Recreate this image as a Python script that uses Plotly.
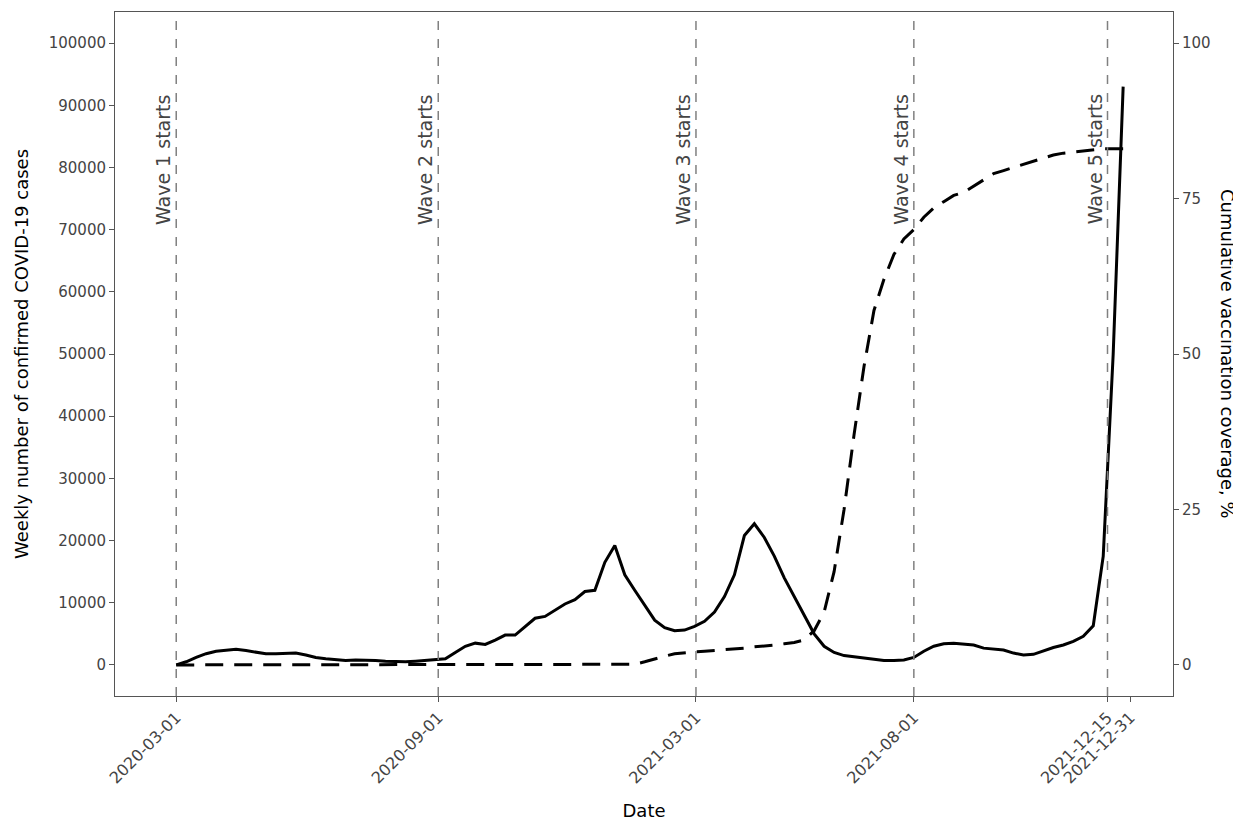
import plotly.graph_objects as go
import pandas as pd

dates = pd.date_range("2020-03-01", periods=96, freq="7D")
cases_k = [0,0.5,1.2,1.8,2.2,2.4,2.5,2.3,2.1,1.8,1.8,1.9,1.9,1.6,1.2,1.0,0.9,0.7,0.8,0.8,0.7,0.6,0.5,0.5,0.6,0.7,0.8,1.0,
           2.0,3.0,3.5,3.3,4.0,4.8,4.8,6.2,7.5,7.8,8.8,9.8,10.5,11.8,12.0,16.5,19.2,14.5,12.0,9.5,7.2,6.0,5.5,5.6,6.2,7.0,8.5,
           11.0,14.5,20.8,22.7,20.5,17.5,14.0,11.0,8.2,5.0,3.0,2.0,1.5,1.3,1.0,0.8,0.7,0.7,0.8,1.2,2.2,3.0,3.4,3.5,3.3,3.2,
           2.7,2.6,2.4,1.9,1.6,1.7,2.3,2.8,3.2,3.8,4.6,6.3,17.5,50,93]
cases = [v*1000 for v in cases_k]
vacc = [0]*46 + [0.1,0.5,1.0,1.4,1.8,2.0,2.1,2.2,2.3,2.4,2.6,2.7,2.9,3.0,3.2,3.4,3.6,4.0,5.5,8.5,15,25,37,48,57,62,66,68.5,
        70,72,73.5,74.5,75.5,76,77,78,79,79.5,80,80.5,81,81.5,82,82.3,82.5,82.7,82.8,83,83,83]
wave_dates = ["2020-03-01","2020-09-01","2021-03-01","2021-08-01","2021-12-15"]
wave_labels = ["Wave 1 starts","Wave 2 starts","Wave 3 starts","Wave 4 starts","Wave 5 starts"]
xticks = ["2020-03-01","2020-09-01","2021-03-01","2021-08-01","2021-12-15","2021-12-31"]

fig = go.Figure()
fig.add_trace(go.Scatter(x=dates, y=cases, mode="lines", line=dict(color="black", width=3), showlegend=False))
fig.add_trace(go.Scatter(x=dates, y=vacc, mode="lines", yaxis="y2",
                         line=dict(color="black", width=3, dash="18px,11px"), showlegend=False))
for d, lab in zip(wave_dates, wave_labels):
    fig.add_shape(type="line", x0=d, x1=d, y0=0, y1=1, yref="paper", line=dict(color="grey", width=1.5, dash="dash"))
    fig.add_annotation(x=d, y=92000, text=lab, textangle=-90, showarrow=False, xanchor="right", yanchor="top",
                       xshift=0, font=dict(size=19, color="#444"))
fig.add_annotation(x=1.052, xref="paper", y=0.5, yref="paper", text="Cumulative vaccination coverage, %",
                   textangle=90, showarrow=False, xanchor="center", yanchor="middle", font=dict(size=18))
fig.update_layout(
    width=1233, height=813, margin=dict(l=107, r=68, t=4, b=125, autoexpand=False),
    plot_bgcolor="white", paper_bgcolor="white",
    font=dict(family="DejaVu Sans", color="black"),
    xaxis=dict(range=["2020-01-18","2022-01-30"], tickvals=xticks, ticktext=xticks, tickangle=-45, automargin=False,
               showgrid=False, showline=True, mirror=True, linecolor="#555", ticks="outside", ticklen=5, tickcolor="#555",
               tickfont=dict(size=16, color="#444"), title=dict(text="Date", font=dict(size=18), standoff=18)),
    yaxis=dict(range=[-5000,105000], tickvals=list(range(0,100001,10000)), tickformat="d", showgrid=False, showline=True,
               mirror=True, automargin=False,
               linecolor="#555", ticks="outside", ticklen=5, tickcolor="#555", tickfont=dict(size=15, color="#444"),
               title=dict(text="Weekly number of confirmed COVID-19 cases", font=dict(size=18), standoff=15)),
    yaxis2=dict(range=[-5,105], overlaying="y", side="right", tickvals=[0,25,50,75,100], showgrid=False, automargin=False,
                ticks="outside", ticklen=5, tickcolor="#555", tickfont=dict(size=15, color="#444")),
)
fig.write_html("out.html")
